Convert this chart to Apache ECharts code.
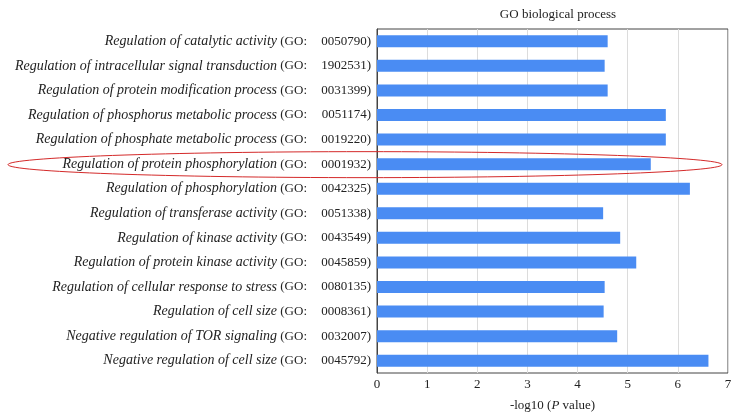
<!DOCTYPE html>
<html>
<head>
<meta charset="utf-8">
<script src="https://cdn.jsdelivr.net/npm/echarts@6/dist/echarts.min.js"></script>
<style>html,body{margin:0;padding:0;background:#fff;}#c{width:740px;height:420px;}</style>
</head>
<body>
<div id="c"></div>
<script>
var terms = [
  "Regulation of catalytic activity",
  "Regulation of intracellular signal transduction",
  "Regulation of protein modification process",
  "Regulation of phosphorus metabolic process",
  "Regulation of phosphate metabolic process",
  "Regulation of protein phosphorylation",
  "Regulation of phosphorylation",
  "Regulation of transferase activity",
  "Regulation of kinase activity",
  "Regulation of protein kinase activity",
  "Regulation of cellular response to stress",
  "Regulation of cell size",
  "Negative regulation of TOR signaling",
  "Negative regulation of cell size"
];
var goIds = ["0050790","1902531","0031399","0051174","0019220","0001932","0042325",
             "0051338","0043549","0045859","0080135","0008361","0032007","0045792"];
var values = [4.60, 4.54, 4.60, 5.76, 5.76, 5.46, 6.24, 4.51, 4.85, 5.17, 4.54, 4.52, 4.79, 6.61];
var xTicks = [0, 1, 2, 3, 4, 5, 6, 7];
var highlightIndex = 5;

var categories = terms.map(function (t, i) { return t + "|" + goIds[i]; });

var chart = echarts.init(document.getElementById('c'));
var serif = "'Liberation Serif', 'DejaVu Serif', serif";
chart.setOption({
  animation: false,
  backgroundColor: '#fff',
  title: {
    text: 'GO biological process',
    left: 553, top: 3, textAlign: 'center',
    textStyle: { fontFamily: serif, fontSize: 13, fontWeight: 'normal', color: '#222' }
  },
  grid: { left: 377, right: 12, top: 29, bottom: 47, show: true, borderColor: '#444', borderWidth: 1 },
  xAxis: {
    type: 'value', min: 0, max: 7, interval: 1,
    axisLine: { show: false },
    axisTick: { show: false },
    splitLine: { show: true, lineStyle: { color: '#dcdcdc', width: 1 } },
    axisLabel: { fontFamily: serif, fontSize: 13, color: '#222', margin: 5,
      formatter: function (v) { return xTicks.indexOf(v) >= 0 ? String(v) : ''; } },
    name: '{a|-log10 (}{p|P}{a| value)}',
    nameLocation: 'middle', nameGap: 26,
    nameTextStyle: { rich: {
      a: { fontFamily: serif, fontSize: 13, color: '#222' },
      p: { fontFamily: serif, fontSize: 13, fontStyle: 'italic', color: '#222' }
    } }
  },
  yAxis: {
    type: 'category', inverse: true, data: categories,
    axisLine: { show: true, lineStyle: { color: '#444' } },
    axisTick: { show: false },
    axisLabel: {
      margin: 6, interval: 0,
      formatter: function (v) {
        var parts = v.split('|');
        return '{i|' + parts[0] + '}{g| (GO:}{n|' + parts[1] + ')}';
      },
      rich: {
        i: { fontFamily: serif, fontSize: 14, fontStyle: 'italic', color: '#222' },
        g: { fontFamily: serif, fontSize: 13, color: '#222' },
        n: { fontFamily: serif, fontSize: 13, color: '#222', width: 64, align: 'right' }
      }
    }
  },
  series: [{
    type: 'bar', data: values, barWidth: 12,
    itemStyle: { color: '#4a8cf3' }
  }]
});

var cy = chart.convertToPixel({ yAxisIndex: 0 }, categories[highlightIndex]);
var xr = chart.convertToPixel({ xAxisIndex: 0 }, 6.88);
var xl = 8;
chart.setOption({
  graphic: [{
    type: 'ellipse', silent: true, z: 100,
    shape: { cx: (xl + xr) / 2, cy: cy + 0.5, rx: (xr - xl) / 2, ry: 13 },
    style: { fill: 'none', stroke: '#d42a2a', lineWidth: 1 }
  }]
});
</script>
</body>
</html>
